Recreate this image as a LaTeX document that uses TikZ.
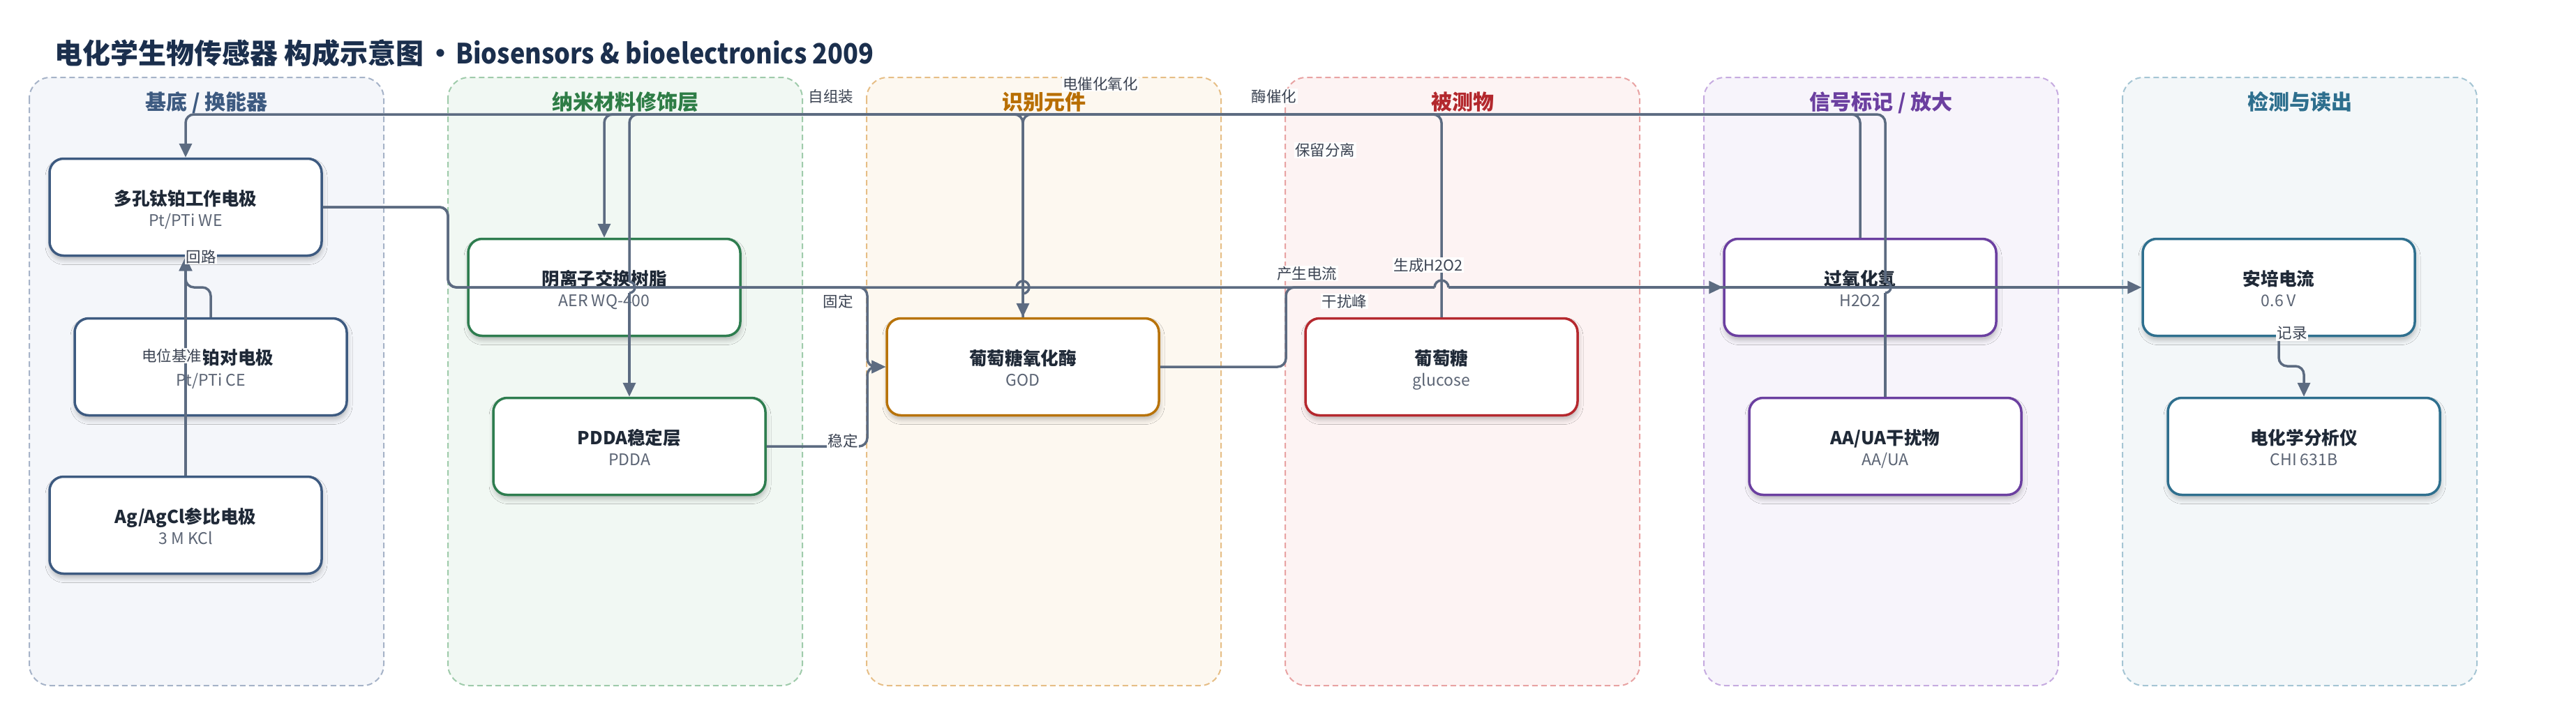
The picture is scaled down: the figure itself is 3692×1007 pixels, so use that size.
\documentclass[tikz,border=0pt]{standalone}
\usepackage{fontspec}
\usepackage{graphicx}
\setmainfont{Noto Sans CJK SC}
\usetikzlibrary{arrows.meta,shadows.blur}
\definecolor{ink}{HTML}{1F2937}
\definecolor{subc}{HTML}{5B6474}
\definecolor{lblc}{HTML}{3B4352}
\definecolor{edgec}{HTML}{5C6B81}
\definecolor{ttlc}{HTML}{1B2F4D}
\definecolor{b1}{HTML}{A6B3C8}\definecolor{f1}{HTML}{F4F6FA}\definecolor{t1}{HTML}{3D5A80}
\definecolor{b2}{HTML}{9FCBAB}\definecolor{f2}{HTML}{F1F8F3}\definecolor{t2}{HTML}{2E7D46}
\definecolor{b3}{HTML}{E6BE86}\definecolor{f3}{HTML}{FDF8F0}\definecolor{t3}{HTML}{B86E00}
\definecolor{b4}{HTML}{E8A3A3}\definecolor{f4}{HTML}{FDF3F3}\definecolor{t4}{HTML}{B3282D}
\definecolor{b5}{HTML}{C6ABE0}\definecolor{f5}{HTML}{F7F4FB}\definecolor{t5}{HTML}{6B3FA0}
\definecolor{b6}{HTML}{A5C5D4}\definecolor{f6}{HTML}{F3F7F9}\definecolor{t6}{HTML}{2E6F8E}
\definecolor{n1}{HTML}{3D5A80}
\definecolor{n2}{HTML}{2E7D4F}
\definecolor{n3}{HTML}{B8730A}
\definecolor{n4}{HTML}{B5282E}
\definecolor{n5}{HTML}{6B3FA0}
\definecolor{n6}{HTML}{2E6F8E}
\newcommand\mknode[6]{%
  \node[nbox=#4] (#1) at (#2,#3) {};
  \node[ntitle] (#1t) at (#2,#3-3) {#5};
  \node[nsub] (#1s) at (#2,#3+27) {#6};
}
\begin{document}
\begin{tikzpicture}[x=1pt,y=-1pt,
  grp/.style={draw=#1, line width=2pt, dash pattern=on 8pt off 5pt, rounded corners=30pt},
  nbox/.style={draw=#1, fill=white, line width=3.5pt, rounded corners=20pt,
    minimum width=390pt, minimum height=139pt, inner sep=0pt,
    blur shadow={shadow xshift=1pt, shadow yshift=-6pt, shadow blur radius=7pt, shadow opacity=25}},
  ntitle/.style={font=\fontsize{25.6pt}{30pt}\selectfont\bfseries, text=ink, anchor=base, inner sep=0pt},
  nsub/.style={font=\fontsize{23pt}{27pt}\selectfont, text=subc, anchor=base, inner sep=0pt},
  gtitle/.style={font=\fontsize{30pt}{36pt}\selectfont\bfseries, text=#1, anchor=base, inner sep=0pt},
  conn/.style={draw=edgec, line width=3.5pt, rounded corners=12pt, -{Triangle[length=20pt,width=18pt]}},
  wire/.style={draw=edgec, line width=3.5pt, rounded corners=12pt},
  elabel/.style={font=\fontsize{21.5pt}{25pt}\selectfont, text=lblc, fill=white, fill opacity=0.95, text opacity=1, inner sep=1.5pt},
]
\useasboundingbox (0,0) rectangle (3692,1007);
\fill[white] (0,0) rectangle (3692,1007);
% groups
\path[grp=b1, fill=f1] (42,111) rectangle (550,983);
\path[grp=b2, fill=f2] (642,111) rectangle (1150,983);
\path[grp=b3, fill=f3] (1242,111) rectangle (1750,983);
\path[grp=b4, fill=f4] (1842,111) rectangle (2350,983);
\path[grp=b5, fill=f5] (2442,111) rectangle (2950,983);
\path[grp=b6, fill=f6] (3042,111) rectangle (3550,983);
\node[gtitle=t1] (g1) at (296,157) {基底 / 换能器};
\node[gtitle=t2] (g2) at (896,157) {纳米材料修饰层};
\node[gtitle=t3] (g3) at (1496,157) {识别元件};
\node[gtitle=t4] (g4) at (2096,157) {被测物};
\node[gtitle=t5] (g5) at (2696,157) {信号标记 / 放大};
\node[gtitle=t6] (g6) at (3296,157) {检测与读出};
% main title
\node[font=\fontsize{40pt}{48pt}\selectfont\bfseries, text=ttlc, anchor=base west, inner sep=0pt] (title) at (78,91) {电化学生物传感器 构成示意图\hspace{18pt}\makebox[12pt]{•}\hspace{16pt}\scalebox{0.9}[1]{Biosensors \& bioelectronics 2009}};
% nodes
\mknode{A}{266}{297}{n1}{多孔钛铂工作电极}{Pt/PTi WE}
\node[nbox=n1] (B) at (302,526) {};
\node[ntitle] (Bt) at (341,522) {铂对电极};
\node[nsub] (Bs) at (302,553) {Pt/PTi CE};
\mknode{C}{266}{753}{n1}{Ag/AgCl参比电极}{3 M KCl}
\mknode{D}{866}{412}{n2}{阴离子交换树脂}{AER WQ-400}
\mknode{E}{902}{640}{n2}{PDDA稳定层}{PDDA}
\mknode{F}{1466}{526}{n3}{葡萄糖氧化酶}{GOD}
\mknode{G}{2066}{526}{n4}{葡萄糖}{glucose}
\mknode{H}{2666}{412}{n5}{过氧化氢}{H2O2}
\mknode{I}{2702}{640}{n5}{AA/UA干扰物}{AA/UA}
\mknode{J}{3266}{412}{n6}{安培电流}{0.6 V}
\mknode{K}{3302}{640}{n6}{电化学分析仪}{CHI 631B}
% routing helpers
\coordinate (topbus) at (0,164);
\coordinate (midbus) at (0,412);
\coordinate (ja) at (0,404);
\coordinate (jb) at (0,420);
\coordinate (xa) at (642,0);
\coordinate (xb) at (1243,0);
\coordinate (xc) at (1843,0);
\coordinate (hopl) at (2056,412);
\coordinate (hopr) at (2076,412);
\coordinate (rbus) at (0,525);
% C -> A
\draw[conn] (C.north) -- (A.south);
% B -> A
\draw[conn] (B.north) -- (B.north |- midbus) -- (A.south |- midbus) -- (A.south);
% A -> F
\draw[conn] (A.east) -- (A.east -| xa) -- (xa |- midbus) -- (xb |- midbus) -- (xb |- F.west) -- (F.west);
% E -> F
\draw[conn] (E.east) -- (E.east -| xb) -- (xb |- F.west) -- (F.west);
% A -> J
\draw[wire] (A.east) -- (A.east -| xa) -- (xa |- midbus) -- (hopl);
\draw[wire] (hopl) arc[start angle=180, end angle=0, radius=10pt];
\draw[conn] (hopr) -- (J.west);
% F -> H
\draw[wire] (F.east) -- (F.east -| xc) -- (xc |- midbus) -- (hopl);
\draw[conn] (hopr) -- (H.west);
% G -> F
\draw[conn] (G.north) -- (G.north |- topbus) -- (F.north |- topbus) -- (F.north);
% F -> E
\draw[wire] (F.north) -- (F.north |- topbus) -- (E.north |- topbus) -- (E.north |- ja);
\draw[wire] (E.north |- ja) arc[start angle=90, end angle=-90, radius=8pt];
\draw[conn] (E.north |- jb) -- (E.north);
% I -> D
\draw[wire] (I.north) -- (I.north |- jb);
\draw[wire] (I.north |- jb) arc[start angle=-90, end angle=90, radius=8pt];
\draw[conn] (I.north |- ja) -- (I.north |- topbus) -- (D.north |- topbus) -- (D.north);
% H -> A
\draw[conn] (H.north) -- (H.north |- topbus) -- (A.north |- topbus) -- (A.north);
% J -> K
\draw[conn] (J.south) -- (J.south |- rbus) -| (K.north);
% crossing mark above F
\draw[wire] (1457,412) arc[start angle=180, end angle=-90, radius=9pt];
% labels
\node[elabel] (l1) at (288,368) {回路};
\node[elabel] (l2) at (246,510) {电位基准};
\node[elabel] (l3) at (1191,138) {自组装};
\node[elabel] (l4) at (1201,432) {固定};
\node[elabel] (l5) at (1208,632) {稳定};
\node[elabel] (l6) at (1577,120) {电催化氧化};
\node[elabel] (l7) at (1826,138) {酶催化};
\node[elabel] (l8) at (1899,215) {保留分离};
\node[elabel] (l9) at (1873,392) {产生电流};
\node[elabel] (l10) at (2047,380) {生成H2O2};
\node[elabel] (l11) at (1927,432) {干扰峰};
\node[elabel] (l12) at (3285,478) {记录};
\end{tikzpicture}
\end{document}
